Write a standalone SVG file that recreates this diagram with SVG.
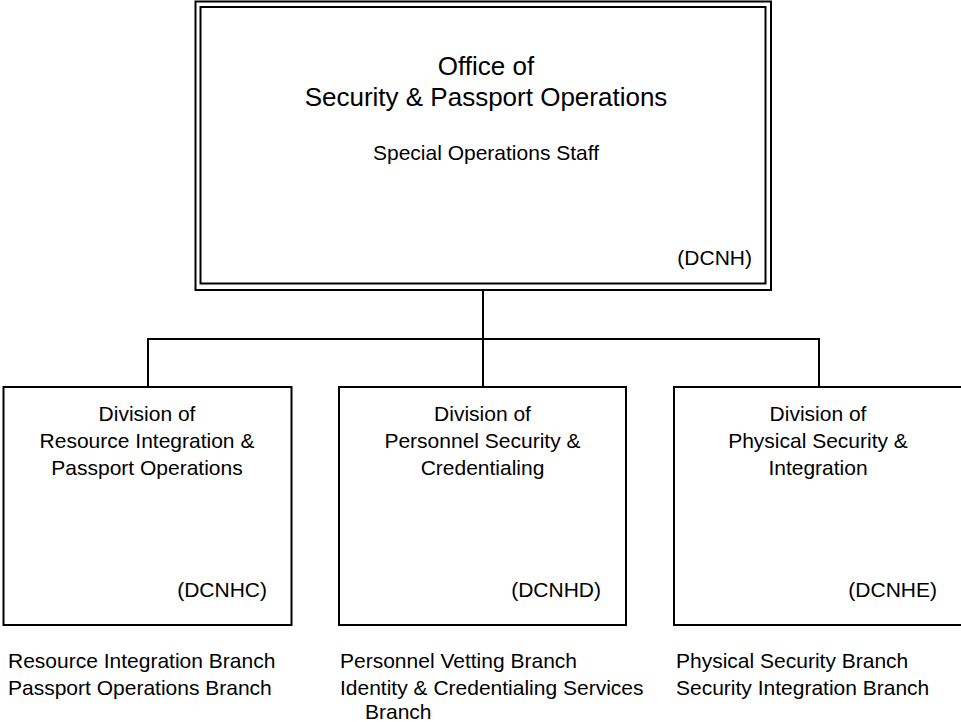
<svg xmlns="http://www.w3.org/2000/svg" width="961" height="722" viewBox="0 0 961 722">
<style>
  .box { fill: #ffffff; stroke: #000000; stroke-width: 2; }
  .conn { fill: none; stroke: #000000; stroke-width: 2; }
  text { font-family: "Liberation Sans", Arial, sans-serif; fill: #000000; }
  .t26 { font-size: 26px; text-anchor: middle; }
  .t21 { font-size: 21px; }
  .mid { text-anchor: middle; }
  .end { text-anchor: end; }
</style>
<rect width="961" height="722" fill="#ffffff"/>
<g id="connectors">
  <path class="conn" d="M483,290 V387"/>
  <path class="conn" d="M148,387 V339 H819 V387"/>
</g>
<g id="office">
  <rect class="box" x="195.5" y="1.5" width="575.5" height="288.5"/>
  <rect class="box" x="200.5" y="7" width="565" height="276.5"/>
  <text class="t26" x="486" y="75">Office of</text>
  <text class="t26" x="486" y="106">Security &amp; Passport Operations</text>
  <text class="t21 mid" x="486" y="160">Special Operations Staff</text>
  <text class="t21 end" x="752" y="265">(DCNH)</text>
</g>
<g id="dcnhc">
  <rect class="box" x="3.5" y="387" width="288" height="238"/>
  <text class="t21 mid" x="147" y="421">Division of</text>
  <text class="t21 mid" x="147" y="447.5">Resource Integration &amp;</text>
  <text class="t21 mid" x="147" y="475">Passport Operations</text>
  <text class="t21 end" x="267" y="597">(DCNHC)</text>
</g>
<g id="dcnhd">
  <rect class="box" x="339" y="387" width="287" height="238"/>
  <text class="t21 mid" x="482.5" y="421">Division of</text>
  <text class="t21 mid" x="482.5" y="447.5">Personnel Security &amp;</text>
  <text class="t21 mid" x="482.5" y="475">Credentialing</text>
  <text class="t21 end" x="601" y="597">(DCNHD)</text>
</g>
<g id="dcnhe">
  <rect class="box" x="674" y="387" width="289" height="238"/>
  <text class="t21 mid" x="818" y="421">Division of</text>
  <text class="t21 mid" x="818" y="447.5">Physical Security &amp;</text>
  <text class="t21 mid" x="818" y="475">Integration</text>
  <text class="t21 end" x="937" y="597">(DCNHE)</text>
</g>
<g id="branches">
  <text class="t21" x="8" y="668">Resource Integration Branch</text>
  <text class="t21" x="8" y="695">Passport Operations Branch</text>
  <text class="t21" x="340" y="668">Personnel Vetting Branch</text>
  <text class="t21" x="340" y="695">Identity &amp; Credentialing Services</text>
  <text class="t21" x="365" y="719">Branch</text>
  <text class="t21" x="676" y="668">Physical Security Branch</text>
  <text class="t21" x="676" y="695">Security Integration Branch</text>
</g>
</svg>
